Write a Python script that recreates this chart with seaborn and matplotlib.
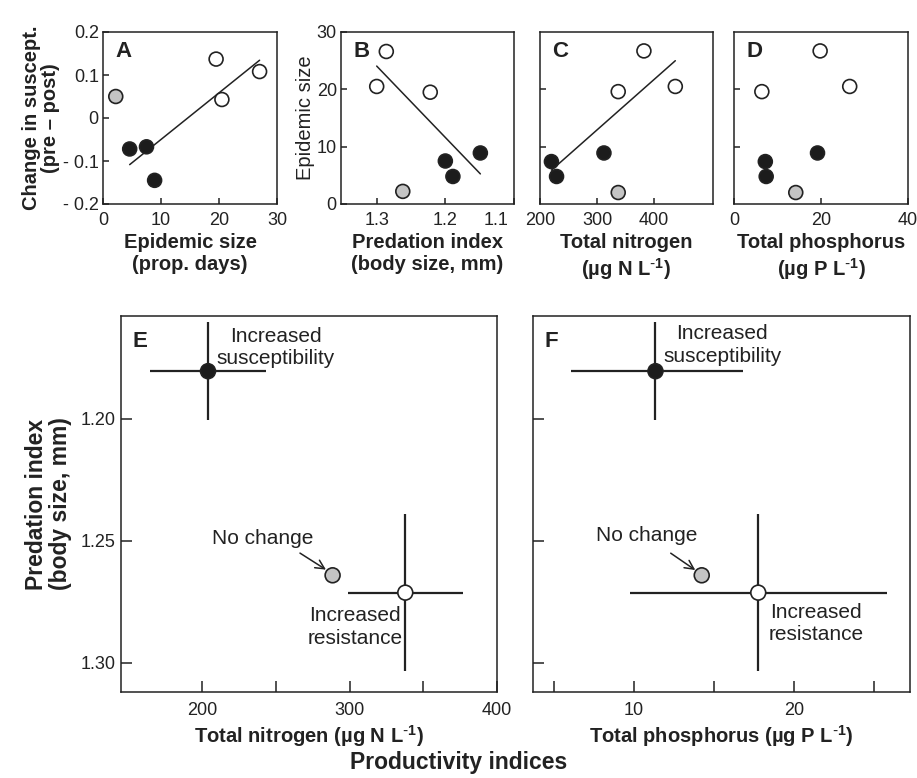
import numpy as np
import pandas as pd
import matplotlib
matplotlib.use("Agg")
import matplotlib.pyplot as plt
import matplotlib.transforms as mtransforms
import seaborn as sns

# --- data ---
# lake groups: "S" = increased susceptibility (black), "N" = no change (grey), "R" = increased resistance (open)
groups_top = ["N", "S", "S", "S", "R", "R", "R"]

# panel A: epidemic size vs change in susceptibility
a_epi = [2.2, 4.6, 7.5, 8.9, 19.5, 20.5, 27.0]
a_change = [0.050, -0.072, -0.067, -0.145, 0.137, 0.043, 0.108]

# panel B: predation index vs epidemic size
b_pred = [1.262, 1.200, 1.189, 1.149, 1.300, 1.286, 1.222]
b_epi = [2.2, 7.5, 4.8, 8.9, 20.5, 26.6, 19.5]

# panel C: total nitrogen vs epidemic size
c_tn = [337, 220, 229, 312, 337, 382, 437]
c_epi = [2.0, 7.4, 4.8, 8.9, 19.6, 26.7, 20.5]

# panel D: total phosphorus vs epidemic size
d_tp = [14.2, 7.2, 7.4, 19.2, 6.4, 19.8, 26.6]
d_epi = [2.0, 7.4, 4.8, 8.9, 19.6, 26.7, 20.5]

# panels E/F: group means with error bars
groups_low = ["S", "N", "R"]
pred_mean = [1.1806, 1.2642, 1.2713]
pred_err = [0.0202, 0.0, 0.0322]
tn_mean = [204.0, 288.5, 337.8]
tn_err = [39.5, 0.0, 39.0]
tp_mean = [11.35, 14.24, 17.77]
tp_lo = [5.27, 0.0, 7.98]
tp_hi = [5.44, 0.0, 8.02]

group_names = {"S": "Increased\nsusceptibility", "N": "No change", "R": "Increased\nresistance"}
face = {"S": "#1c1c1c", "N": "#c4c4c4", "R": "white"}

sns.set_theme(style="ticks")
plt.rcParams["font.family"] = ["Liberation Sans", "DejaVu Sans"]
plt.rcParams["mathtext.default"] = "regular"
ink = "#222222"
plt.rcParams.update({
    "axes.edgecolor": ink, "axes.linewidth": 1.1, "xtick.color": ink, "ytick.color": ink,
    "text.color": ink, "axes.labelcolor": ink, "xtick.direction": "in", "ytick.direction": "in",
})

W, H = 917, 778
fig = plt.figure(figsize=(W / 100, H / 100), dpi=100)
SUP = "$^{\\text{-}1}$"


def box(l, r, t, b):
    return fig.add_axes([l / W, 1 - b / H, (r - l) / W, (b - t) / H])


def scatter(ax, x, y, g, fit=True):
    df = pd.DataFrame({"x": x, "y": y, "g": g})
    sns.scatterplot(data=df, x="x", y="y", hue="g", palette=face, edgecolor=ink,
                    linewidth=1.2, s=100, legend=False, ax=ax, zorder=3)
    if fit:
        sub = df[df["g"] != "N"]
        sns.regplot(data=sub, x="x", y="y", scatter=False, ci=None, truncate=True,
                    line_kws={"color": ink, "lw": 1.1}, ax=ax)


def letter(ax, s, pos=(0.07, 0.95)):
    ax.text(*pos, s, transform=ax.transAxes, ha="left", va="top",
            fontsize=16, fontweight="bold")


top_kw = dict(labelsize=13, length=4, width=1.1, pad=3)

axA = box(103, 277, 32, 204)
scatter(axA, a_epi, a_change, groups_top)
axA.set_xlim(0, 30)
axA.set_ylim(-0.2, 0.2)
axA.set_xticks([0, 10, 20, 30])
axA.set_yticks([-0.2, -0.1, 0, 0.1, 0.2])
axA.set_yticklabels(["- 0.2", "- 0.1", "0", "0.1", "0.2"])
axA.set_xlabel("Epidemic size\n(prop. days)", fontsize=14.5, fontweight="bold", labelpad=3)
axA.set_ylabel("Change in suscept.\n(pre – post)", fontsize=14.5, fontweight="bold", labelpad=2,
               linespacing=1.0)
letter(axA, "A")

axB = box(341, 514, 32, 204)
scatter(axB, b_pred, b_epi, groups_top)
axB.set_xlim(1.352, 1.1)
axB.set_ylim(0, 30)
axB.set_xticks([1.3, 1.2, 1.1])
axB.set_xticklabels(["1.3", "1.2", "1.1"])
axB.set_yticks([0, 10, 20, 30])
axB.set_xlabel("Predation index\n(body size, mm)", fontsize=14.5, fontweight="bold", labelpad=3)
axB.set_ylabel("Epidemic size", fontsize=14.5, labelpad=1)
letter(axB, "B")

axC = box(540, 713, 32, 204)
scatter(axC, c_tn, c_epi, groups_top)
axC.set_xlim(200, 503)
axC.set_ylim(0, 30)
axC.set_xticks([200, 300, 400])
axC.set_yticks([10, 20])
axC.set_yticklabels([])
axC.set_xlabel("Total nitrogen\n(µg N L" + SUP + ")", fontsize=14.5, fontweight="bold", labelpad=3)
axC.set_ylabel("")
letter(axC, "C")

axD = box(734, 908, 32, 204)
scatter(axD, d_tp, d_epi, groups_top, fit=False)
axD.set_xlim(0, 40)
axD.set_ylim(0, 30)
axD.set_xticks([0, 20, 40])
axD.set_yticks([10, 20])
axD.set_yticklabels([])
axD.set_xlabel("Total phosphorus\n(µg P L" + SUP + ")", fontsize=14.5, fontweight="bold", labelpad=3)
axD.set_ylabel("")
letter(axD, "D")

for ax in (axA, axB, axC, axD):
    ax.tick_params(**top_kw)
    ax.tick_params(axis="x", pad=6)

# pull the "1.1" label of B away from the "200" of C
shift = mtransforms.ScaledTranslation(-0.18, 0, fig.dpi_scale_trans)
lbl = axB.get_xticklabels()[-1]
lbl.set_transform(lbl.get_transform() + shift)

# --- lower panels ---
text_pos_E = {"S": (250, 1.1709), "N": (241.3, 1.2493), "R": (303.7, 1.2853)}
arrow_E = ((264.8, 1.2545), (285.6, 1.2625))
text_pos_F = {"S": (15.53, 1.1699), "N": (10.8, 1.2481), "R": (21.37, 1.2839)}
arrow_F = ((12.16, 1.2545), (13.98, 1.2627))


def lower(ax, xm, xerr, tpos, arrow):
    for i, g in enumerate(groups_low):
        ax.errorbar(xm[i], pred_mean[i], xerr=[[xerr[0][i]], [xerr[1][i]]],
                    yerr=pred_err[i], fmt="none", ecolor=ink, elinewidth=1.6, capsize=0, zorder=2)
    df = pd.DataFrame({"x": xm, "y": pred_mean, "g": groups_low})
    sns.scatterplot(data=df, x="x", y="y", hue="g", palette=face, edgecolor=ink,
                    linewidth=1.2, s=115, legend=False, ax=ax, zorder=3)
    for g in groups_low:
        ax.text(*tpos[g], group_names[g], ha="center", va="center", fontsize=15,
                linespacing=1.25, zorder=4)
    ax.annotate("", xy=arrow[1], xytext=arrow[0],
                arrowprops=dict(arrowstyle="->", color=ink, lw=1.1, mutation_scale=16))
    ax.set_ylim(1.312, 1.158)
    ax.set_yticks([1.20, 1.25, 1.30])
    ax.tick_params(which="major", labelsize=13, length=8, width=1.1, pad=4)
    ax.tick_params(which="minor", length=8, width=1.1, direction="in")
    ax.tick_params(axis="x", which="major", pad=7)


axE = box(121, 497, 316, 692)
lower(axE, tn_mean, [tn_err, tn_err], text_pos_E, arrow_E)
axE.set_xlim(145, 400)
axE.set_xticks([200, 300, 400])
axE.set_xticks([250, 350], minor=True)
axE.set_yticklabels(["1.20", "1.25", "1.30"])
axE.set_xlabel("Total nitrogen (µg N L" + SUP + ")", fontsize=14.5, fontweight="bold", labelpad=3)
axE.set_ylabel("Predation index\n(body size, mm)", fontsize=16.5, fontweight="bold", labelpad=6,
               linespacing=1.05)
letter(axE, "E", (0.03, 0.96))

axF = box(533, 910, 316, 692)
lower(axF, tp_mean, [tp_lo, tp_hi], text_pos_F, arrow_F)
axF.set_xlim(3.7, 27.25)
axF.set_xticks([10, 20])
axF.set_xticks([5, 15, 25], minor=True)
axF.set_yticklabels([])
axF.set_xlabel("Total phosphorus (µg P L" + SUP + ")", fontsize=14.5, fontweight="bold", labelpad=3)
axF.set_ylabel("")
letter(axF, "F", (0.03, 0.96))

fig.text(0.5, 1 - 763 / H, "Productivity indices", ha="center", va="center",
         fontsize=16.5, fontweight="bold")

fig.savefig("out.png", dpi=100, facecolor="white")
